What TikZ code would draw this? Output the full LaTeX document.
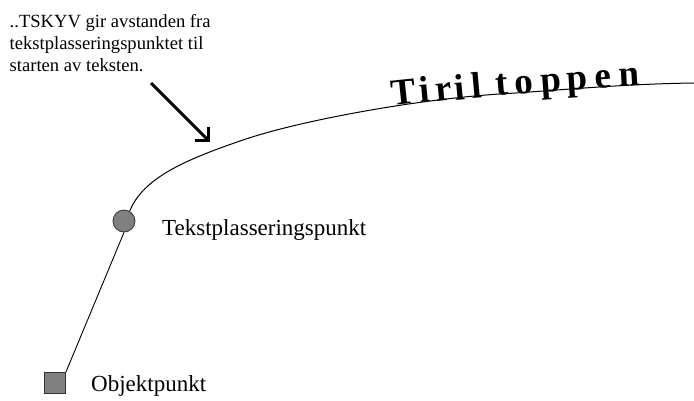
\documentclass[tikz,border=0pt]{standalone}
\usepackage{fontspec}
\setmainfont{Liberation Serif}
\usetikzlibrary{arrows.meta}
\definecolor{markgray}{HTML}{808080}
\begin{document}
\begin{tikzpicture}[x=1pt,y=-1pt,
  thinline/.style={line width=0.9pt,black},
  marker/.style={fill=markgray,draw=black!80,line width=0.8pt,inner sep=0pt},
  lbl/.style={font=\fontsize{23}{27}\selectfont,inner sep=0pt,anchor=base west},
  note/.style={font=\fontsize{18.6}{22}\selectfont,inner sep=0pt,align=left,anchor=north west},
  curvelet/.style={font=\fontsize{37}{42}\bfseries\selectfont,inner sep=0pt,anchor=base}]
\useasboundingbox (0,0) rectangle (694,400);
% markers
\node[marker,minimum size=21pt,rectangle] (sq) at (55,383) {};
\node[marker,minimum size=22pt,circle] (circ) at (124,221) {};
% line from object point to text placement point
\draw[thinline] (sq.north east) -- (circ.south);
% curve
\coordinate (cstart) at (circ.60);
\coordinate (cmid) at (240,141);
\coordinate (cmid2) at (500,94);
\coordinate (cend) at (694,83);
\draw[thinline,line width=1pt] (cstart) .. controls (143,178) and (185,160) .. (cmid)
  .. controls (300,120) and (420,99) .. (cmid2)
  .. controls (560,90.3) and (620,84) .. (cend);
% curved text
\node[curvelet,rotate=6]   (l1)  at (405,103.8) {T};
\node[curvelet,rotate=5.5] (l2)  at (426,102)   {i};
\node[curvelet,rotate=5.5] (l3)  at (445,100.8) {r};
\node[curvelet,rotate=5]   (l4)  at (461,99.6)  {i};
\node[curvelet,rotate=5]   (l5)  at (478,98)    {l};
\node[curvelet,rotate=4.5] (l6)  at (503,95.5)  {t};
\node[curvelet,rotate=4.5] (l7)  at (525,93.5)  {o};
\node[curvelet,rotate=4]   (l8)  at (552,91.5)  {p};
\node[curvelet,rotate=3.5] (l9)  at (578,89.5)  {p};
\node[curvelet,rotate=3.5] (l10) at (604,87.6)  {e};
\node[curvelet,rotate=3]   (l11) at (630,86)    {n};
% labels
\node[lbl] (tp) at (162,235) {Tekstplasseringspunkt};
\node[lbl] (op) at (91,391) {Objektpunkt};
% note and arrow
\node[note] (nt) at (9.5,14) {..TSKYV gir avstanden fra\\tekstplasseringspunktet til\\starten av teksten.};
\coordinate (atail) at (151,83);
\coordinate (ahead) at (210,142);
\draw[line width=3pt,-{Straight Barb[angle=90:14pt]}] (atail) -- (ahead);
\end{tikzpicture}
\end{document}
